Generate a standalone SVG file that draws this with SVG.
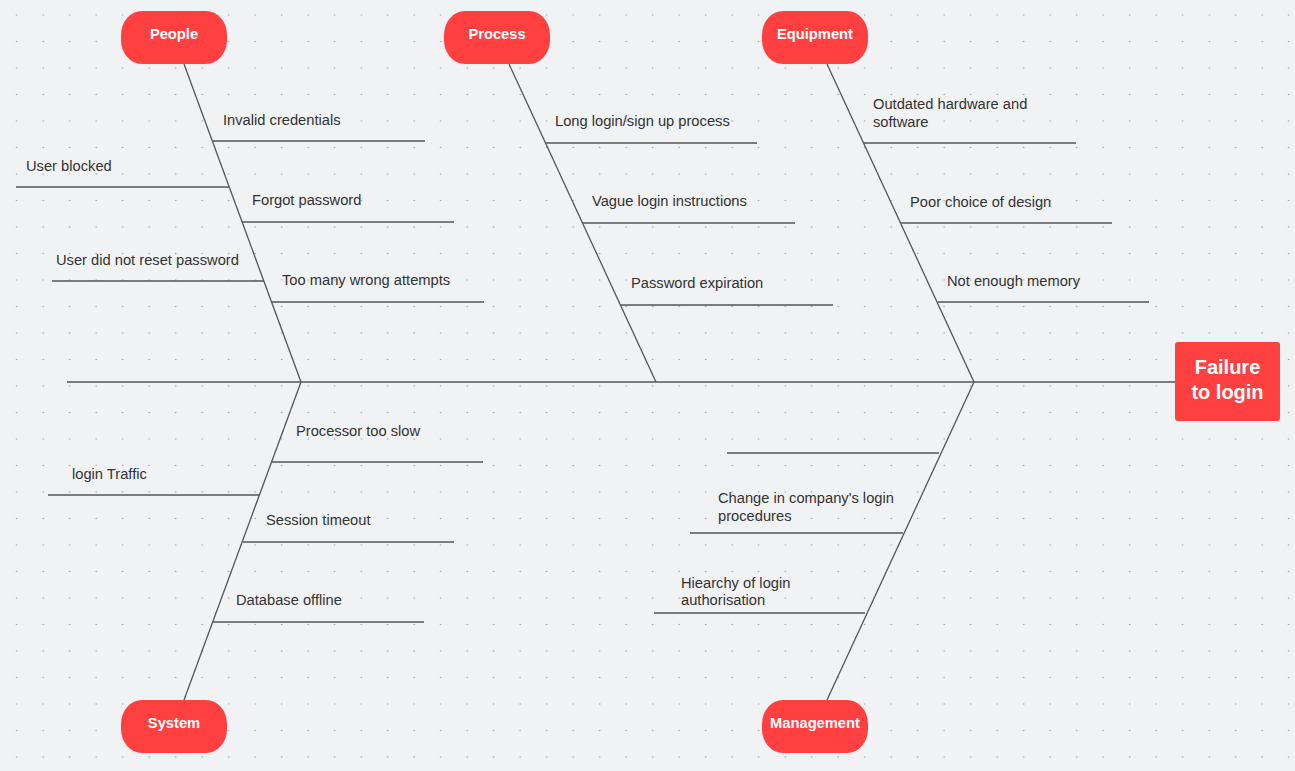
<svg xmlns="http://www.w3.org/2000/svg" width="1295" height="771" viewBox="0 0 1295 771">
<style>
.bg{fill:#f1f2f4}
.ln{stroke:#555;stroke-width:1.3;fill:none}
.node{fill:#ff4040}
.nt{font-family:"Liberation Sans",Arial,sans-serif;font-weight:bold;font-size:14.7px;fill:#fff;text-anchor:middle;dominant-baseline:central}
.ft{font-family:"Liberation Sans",Arial,sans-serif;font-weight:bold;font-size:20px;fill:#fff;text-anchor:middle;dominant-baseline:central}
.lb{font-family:"Liberation Sans",Arial,sans-serif;font-size:14.7px;fill:#333;dominant-baseline:central}
</style>
<defs>
<pattern id="dots" x="3.45" y="1.75" width="26.5" height="26.5" patternUnits="userSpaceOnUse">
<circle cx="13.25" cy="13.25" r="0.8" fill="#9a9ca0"/>
</pattern>
</defs>
<rect class="bg" width="1295" height="771"/>
<rect width="1295" height="771" fill="url(#dots)"/>
<g id="connectors">
<line class="ln" x1="67" y1="382" x2="1175" y2="382"/>
<line class="ln" x1="184" y1="64" x2="301" y2="382"/>
<line class="ln" x1="509" y1="64" x2="656" y2="382"/>
<line class="ln" x1="827" y1="64" x2="974" y2="382"/>
<line class="ln" x1="301" y1="382" x2="184" y2="700"/>
<line class="ln" x1="974" y1="382" x2="827" y2="700"/>
<line class="ln" x1="213" y1="141" x2="425" y2="141"/>
<line class="ln" x1="16" y1="187" x2="229" y2="187"/>
<line class="ln" x1="242" y1="222" x2="454" y2="222"/>
<line class="ln" x1="52" y1="281" x2="264" y2="281"/>
<line class="ln" x1="272" y1="302" x2="484" y2="302"/>
<line class="ln" x1="545" y1="143" x2="757" y2="143"/>
<line class="ln" x1="583" y1="223" x2="795" y2="223"/>
<line class="ln" x1="621" y1="305" x2="833" y2="305"/>
<line class="ln" x1="864" y1="143" x2="1076" y2="143"/>
<line class="ln" x1="901" y1="223" x2="1112" y2="223"/>
<line class="ln" x1="938" y1="302" x2="1149" y2="302"/>
<line class="ln" x1="272" y1="462" x2="483" y2="462"/>
<line class="ln" x1="48" y1="495" x2="259" y2="495"/>
<line class="ln" x1="243" y1="542" x2="454" y2="542"/>
<line class="ln" x1="213" y1="622" x2="424" y2="622"/>
<line class="ln" x1="727" y1="453" x2="939" y2="453"/>
<line class="ln" x1="690" y1="533" x2="903" y2="533"/>
<line class="ln" x1="654" y1="613" x2="865" y2="613"/>
</g>
<g id="labels">
<text class="lb" x="223" y="120">Invalid credentials</text>
<text class="lb" x="26" y="166">User blocked</text>
<text class="lb" x="252" y="200">Forgot password</text>
<text class="lb" x="56" y="260">User did not reset password</text>
<text class="lb" x="282" y="280">Too many wrong attempts</text>
<text class="lb" x="555" y="121">Long login/sign up process</text>
<text class="lb" x="592" y="201">Vague login instructions</text>
<text class="lb" x="631" y="283">Password expiration</text>
<text class="lb" x="873" y="104">Outdated hardware and</text>
<text class="lb" x="873" y="122">software</text>
<text class="lb" x="910" y="202">Poor choice of design</text>
<text class="lb" x="947" y="281">Not enough memory</text>
<text class="lb" x="296" y="431">Processor too slow</text>
<text class="lb" x="72" y="474">login Traffic</text>
<text class="lb" x="266" y="520">Session timeout</text>
<text class="lb" x="236" y="600">Database offline</text>
<text class="lb" x="718" y="498">Change in company's login</text>
<text class="lb" x="718" y="516">procedures</text>
<text class="lb" x="681" y="583">Hiearchy of login</text>
<text class="lb" x="681" y="600">authorisation</text>
</g>
<g id="people"><rect class="node" x="121" y="11" width="106" height="53" rx="21" ry="24"/><text class="nt" x="174" y="34">People</text></g>
<g id="process"><rect class="node" x="444" y="11" width="106" height="53" rx="21" ry="24"/><text class="nt" x="497" y="34">Process</text></g>
<g id="equipment"><rect class="node" x="762" y="11" width="106" height="53" rx="21" ry="24"/><text class="nt" x="815" y="34">Equipment</text></g>
<g id="system"><rect class="node" x="121" y="700" width="106" height="53" rx="21" ry="24"/><text class="nt" x="174" y="723">System</text></g>
<g id="management"><rect class="node" x="762" y="700" width="106" height="53" rx="21" ry="24"/><text class="nt" x="815" y="723">Management</text></g>
<g id="failure"><rect class="node" x="1175" y="342" width="105" height="79" rx="3"/><text class="ft" x="1227.5" y="367">Failure</text><text class="ft" x="1227.5" y="392">to login</text></g>
</svg>
